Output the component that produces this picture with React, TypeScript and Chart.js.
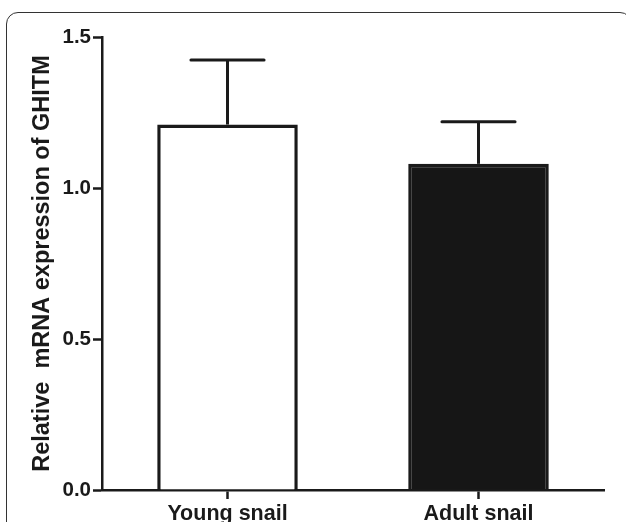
import React, { useEffect, useRef } from "react";
import { Chart, registerables } from "chart.js";

Chart.register(...registerables);

const categories = ["Young snail", "Adult snail"];
const means = [1.21, 1.08];
const upperErrors = [1.424, 1.219];
const fills = ["#ffffff", "#161616"];
const yTicks = [0, 0.5, 1.0, 1.5];
const yTitle = "Relative  mRNA expression of GHITM";

const INK = "#1a1a1a";
const FONT = "'Liberation Sans', Arial, sans-serif";

const errorBarPlugin = {
  id: "errorBars",
  afterDatasetsDraw(chart: any) {
    const meta = chart.getDatasetMeta(0);
    const yScale = chart.scales.y;
    const ctx = chart.ctx;
    ctx.save();
    ctx.strokeStyle = INK;
    ctx.lineWidth = 3;
    meta.data.forEach((bar: any, i: number) => {
      const x = bar.x;
      const yTop = yScale.getPixelForValue(upperErrors[i]);
      const yVal = yScale.getPixelForValue(means[i]);
      const half = bar.width * 0.26;
      ctx.lineCap = "butt";
      ctx.beginPath();
      ctx.moveTo(x, yVal);
      ctx.lineTo(x, yTop);
      ctx.stroke();
      ctx.lineCap = "round";
      ctx.beginPath();
      ctx.moveTo(x - half, yTop);
      ctx.lineTo(x + half, yTop);
      ctx.stroke();
    });
    ctx.restore();
  },
};

export default function App() {
  const ref = useRef<HTMLCanvasElement | null>(null);

  useEffect(() => {
    if (!ref.current) return;
    const chart = new Chart(ref.current, {
      type: "bar",
      data: {
        labels: categories,
        datasets: [
          {
            data: means,
            backgroundColor: fills,
            borderColor: INK,
            borderWidth: 3.5,
            borderSkipped: "bottom",
            categoryPercentage: 1,
            barPercentage: 0.56,
          },
        ],
      },
      options: {
        responsive: false,
        animation: false,
        events: [],
        layout: { padding: { left: 0, right: 22, top: 37, bottom: 0 } },
        plugins: {
          legend: { display: false },
          tooltip: { enabled: false },
          title: { display: false },
        },
        scales: {
          x: {
            grid: {
              display: true,
              drawOnChartArea: false,
              drawTicks: true,
              tickLength: 9,
              tickColor: INK,
              tickWidth: 2.5,
              offset: false,
            },
            border: { display: true, color: INK, width: 2.5 },
            ticks: {
              color: INK,
              padding: 2,
              font: { family: FONT, size: 21.5, weight: "bold" },
              maxRotation: 0,
            },
            afterFit(scale: any) {
              scale.height = 32;
            },
          },
          y: {
            min: 0,
            max: 1.5,
            afterBuildTicks(scale: any) {
              scale.ticks = yTicks.map((v) => ({ value: v }));
            },
            grid: {
              display: true,
              drawOnChartArea: false,
              drawTicks: true,
              tickLength: 9,
              tickColor: INK,
              tickWidth: 2.5,
            },
            border: { display: true, color: INK, width: 2.5 },
            ticks: {
              color: INK,
              padding: 2,
              font: { family: FONT, size: 20.5, weight: "bold" },
              callback: (v: any) => Number(v).toFixed(1),
            },
            title: {
              display: true,
              text: yTitle,
              color: INK,
              font: { family: FONT, size: 23.5, weight: "bold" },
              padding: { top: 28, bottom: 0 },
            },
            afterFit(scale: any) {
              scale.width = 102;
            },
          },
        },
      },
      plugins: [errorBarPlugin],
    });
    return () => chart.destroy();
  }, []);

  return (
    <div
      style={{
        position: "fixed",
        left: 0,
        top: 0,
        width: 626,
        height: 522,
        overflow: "hidden",
        background: "#ffffff",
      }}
    >
      <div
        style={{
          position: "absolute",
          left: 6,
          top: 12,
          width: 626,
          height: 600,
          border: "1.5px solid #333333",
          borderRadius: 12,
          boxSizing: "border-box",
        }}
      />
      <canvas
        ref={ref}
        width={626}
        height={522}
        style={{ position: "absolute", left: 0, top: 0, display: "block" }}
      />
    </div>
  );
}
